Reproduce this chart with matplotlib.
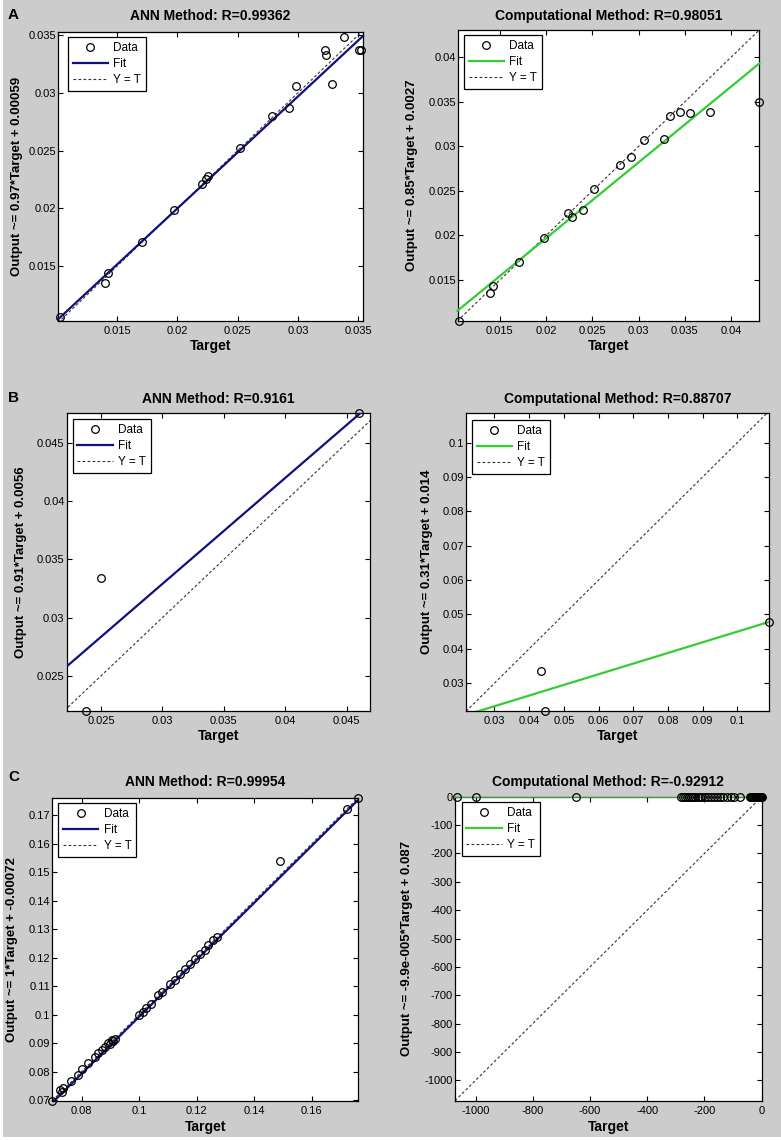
import matplotlib
matplotlib.use('Agg')
import matplotlib.pyplot as plt
from matplotlib.patches import Rectangle
from matplotlib.ticker import FuncFormatter, FixedLocator
import numpy as np

plt.rcParams['font.family'] = ['Liberation Sans', 'DejaVu Sans']
plt.rcParams['axes.unicode_minus'] = False

# ---------------- data ----------------
A_ann_target = [0.01023, 0.01401, 0.01423, 0.01704, 0.01974, 0.02208, 0.02236, 0.02255, 0.02519,
                0.02787, 0.02930, 0.02985, 0.03222, 0.03230, 0.03282, 0.03379, 0.03503, 0.03520]
A_ann_output = [0.01058, 0.01353, 0.01439, 0.01708, 0.01983, 0.02214, 0.02257, 0.02280, 0.02523,
                0.02798, 0.02873, 0.03058, 0.03370, 0.03327, 0.03075, 0.03486, 0.03370, 0.03370]

A_comp_target = [0.01061, 0.01392, 0.01428, 0.01705, 0.01978, 0.02237, 0.02284, 0.02399, 0.02514,
                 0.02795, 0.02914, 0.03058, 0.03270, 0.03335, 0.03453, 0.03561, 0.03773, 0.04299]
A_comp_output = [0.01045, 0.01355, 0.01437, 0.01705, 0.01977, 0.02249, 0.02208, 0.02286, 0.02525,
                 0.02789, 0.02879, 0.03069, 0.03087, 0.03337, 0.03382, 0.03374, 0.03382, 0.03493]

B_ann_target = [0.02375, 0.02500, 0.04599]
B_ann_output = [0.02200, 0.03340, 0.04760]

B_comp_target = [0.04350, 0.04470, 0.10910]
B_comp_output = [0.03360, 0.02200, 0.04770]

C_ann_target = [0.0698, 0.0725, 0.0731, 0.0736, 0.0762, 0.0788, 0.0803, 0.0823, 0.0846, 0.0858,
                0.0870, 0.0881, 0.0893, 0.0899, 0.0904, 0.0910, 0.0916, 0.1000, 0.1012, 0.1023,
                0.1041, 0.1067, 0.1078, 0.1107, 0.1125, 0.1142, 0.1160, 0.1177, 0.1194, 0.1212,
                0.1229, 0.1241, 0.1258, 0.1270, 0.1490, 0.1722, 0.1762]
C_ann_output = [0.0698, 0.0735, 0.0729, 0.0741, 0.0767, 0.0790, 0.0811, 0.0829, 0.0850, 0.0864,
                0.0875, 0.0887, 0.0901, 0.0897, 0.0911, 0.0906, 0.0916, 0.0998, 0.1010, 0.1022,
                0.1039, 0.1068, 0.1080, 0.1109, 0.1121, 0.1144, 0.1162, 0.1179, 0.1197, 0.1212,
                0.1226, 0.1244, 0.1264, 0.1273, 0.1539, 0.1723, 0.1761]

C_comp_target = [-1065, -998, -648, -281, -275, -268, -262, -255, -247, -240, -232, -224, -216,
                 -207, -198, -188, -178, -168, -157, -146, -134, -121, -108, -96, -76, -40, -36,
                 -33, -30, -27, -24, -21, -18, -15, -12, -9, -7, -5, -3, -1, 0]
C_comp_output = [0.170, 0.176, 0.154, 0.127, 0.125, 0.124, 0.122, 0.121, 0.120, 0.118, 0.117,
                 0.115, 0.114, 0.112, 0.111, 0.110, 0.108, 0.107, 0.104, 0.103, 0.101, 0.100,
                 0.099, 0.092, 0.091, 0.090, 0.089, 0.088, 0.087, 0.086, 0.085, 0.084, 0.083,
                 0.082, 0.080, 0.079, 0.077, 0.076, 0.074, 0.073, 0.070]

fit_slopes = [0.97, 0.85, 0.91, 0.31, 1.0, -9.9e-5]
fit_intercepts = [0.00059, 0.0027, 0.0056, 0.014, -0.00072, 0.087]

titles = ['ANN Method: R=0.99362', 'Computational Method: R=0.98051',
          'ANN Method: R=0.9161', 'Computational Method: R=0.88707',
          'ANN Method: R=0.99954', 'Computational Method: R=-0.92912']
ylabels = ['Output ~= 0.97*Target + 0.00059', 'Output ~= 0.85*Target + 0.0027',
           'Output ~= 0.91*Target + 0.0056', 'Output ~= 0.31*Target + 0.014',
           'Output ~= 1*Target + -0.00072', 'Output ~= -9.9e-005*Target + 0.087']

xlims = [(0.0101, 0.0354), (0.0105, 0.04306), (0.0222, 0.0469), (0.0218, 0.1092),
         (0.0698, 0.1762), (-1072, 0.18)]
ylims = [(0.0102, 0.0353), (0.0104, 0.04306), (0.0220, 0.0476), (0.0220, 0.1085),
         (0.0698, 0.1762), (-1072, 0.18)]

xticks = [[0.015, 0.02, 0.025, 0.03, 0.035],
          [0.015, 0.02, 0.025, 0.03, 0.035, 0.04],
          [0.025, 0.03, 0.035, 0.04, 0.045],
          [0.03, 0.04, 0.05, 0.06, 0.07, 0.08, 0.09, 0.1],
          [0.08, 0.1, 0.12, 0.14, 0.16],
          [-1000, -800, -600, -400, -200, 0]]
yticks = [[0.015, 0.02, 0.025, 0.03, 0.035],
          [0.015, 0.02, 0.025, 0.03, 0.035, 0.04],
          [0.025, 0.03, 0.035, 0.04, 0.045],
          [0.03, 0.04, 0.05, 0.06, 0.07, 0.08, 0.09, 0.1],
          [0.07, 0.08, 0.09, 0.1, 0.11, 0.12, 0.13, 0.14, 0.15, 0.16, 0.17],
          [-1000, -900, -800, -700, -600, -500, -400, -300, -200, -100, 0]]

panel_letters = ['A', 'B', 'C']

targets = [A_ann_target, A_comp_target, B_ann_target, B_comp_target, C_ann_target, C_comp_target]
outputs = [A_ann_output, A_comp_output, B_ann_output, B_comp_output, C_ann_output, C_comp_output]

# ---------------- layout (pixels) ----------------
W, H = 781, 1140
BLUE = '#10107f'
GREEN = '#33cc33'
fit_colors = [BLUE, GREEN, BLUE, GREEN, BLUE, GREEN]

# left, top, right, bottom
rects = [(58, 31.7, 363, 321.5), (458.3, 30, 759.3, 321),
         (66.7, 412.7, 370, 710.7), (466, 413.3, 769.3, 710.7),
         (52.3, 797.7, 358.3, 1100.7), (455, 796.7, 761.7, 1100.7)]
title_y = [16, 16, 399, 399, 782.5, 782]
xlabel_y = [346, 345.7, 736, 736, 1126.7, 1126.7]
ylabel_x = [16.7, 411.7, 20.7, 426.7, 11.7, 407.3]
legend_tl = [(68, 37), (464, 35), (72.7, 419.3), (472, 420), (58.3, 803.3), (461.7, 802.3)]
letter_pos = [(8, 15), (8, 398), (8, 777)]

fig = plt.figure(figsize=(W / 100, H / 100), dpi=100, facecolor='white')
fig.patches.append(Rectangle((3 / W, 3 / H), 1, 1, transform=fig.transFigure,
                             facecolor='#cccccc', edgecolor='none', zorder=-10))

fmt = FuncFormatter(lambda v, p: '%g' % v)

for i in range(6):
    l, t, r, b = rects[i]
    ax = fig.add_axes([l / W, 1 - b / H, (r - l) / W, (b - t) / H])
    ax.set_facecolor('white')
    xl = np.array([min(xlims[i][0], ylims[i][0]), max(xlims[i][1], ylims[i][1])])
    fy = fit_slopes[i] * xl + fit_intercepts[i]
    fit_inside = (fy.min() >= ylims[i][0]) and (fy.max() <= ylims[i][1])
    ax.plot(targets[i], outputs[i], 'o', ms=5.5, mfc='none', mec='black', mew=0.9,
            label='Data', clip_on=False, zorder=4)
    ax.plot(xl, fy, '-', color=fit_colors[i], lw=1.6,
            label='Fit', zorder=3, clip_on=not fit_inside)
    ax.plot(xl, xl, color='#333333', lw=0.8, linestyle=(0, (2.5, 2.0)), label='Y = T', zorder=2)
    ax.set_xlim(xlims[i])
    ax.set_ylim(ylims[i])
    ax.xaxis.set_major_locator(FixedLocator(xticks[i]))
    ax.yaxis.set_major_locator(FixedLocator(yticks[i]))
    ax.xaxis.set_major_formatter(fmt)
    ax.yaxis.set_major_formatter(fmt)
    ax.tick_params(direction='in', length=3.5, width=0.8, top=True, right=True,
                   labelsize=8, colors='black')
    ax.tick_params(axis='x', pad=3.5)
    ax.tick_params(axis='y', pad=1.5)
    for s in ax.spines.values():
        s.set_linewidth(0.9)
        s.set_color('black')

    lx, ly = legend_tl[i]
    leg = ax.legend(loc='upper left',
                    bbox_to_anchor=((lx - l) / (r - l), 1 - (ly - t) / (b - t)),
                    borderaxespad=0, fontsize=8.5, frameon=True, fancybox=False,
                    framealpha=1, edgecolor='black', handlelength=3.0,
                    handletextpad=0.45, labelspacing=0.35, borderpad=0.4, numpoints=1)
    leg.get_frame().set_linewidth(0.9)
    leg.set_zorder(10)

    cx = (l + r) / 2 / W
    fig.text(cx, 1 - title_y[i] / H, titles[i], ha='center', va='center',
             fontsize=10, fontweight='bold')
    fig.text(cx, 1 - xlabel_y[i] / H, 'Target', ha='center', va='center',
             fontsize=10, fontweight='bold')
    fig.text(ylabel_x[i] / W, 1 - (t + b) / 2 / H, ylabels[i], ha='center', va='center',
             rotation=90, fontsize=9.5, fontweight='bold')

for k, letter in enumerate(panel_letters):
    px, py = letter_pos[k]
    fig.text(px / W, 1 - py / H, letter, ha='left', va='center', fontsize=11, fontweight='bold')

fig.savefig('out.png', dpi=100, facecolor=fig.get_facecolor())
